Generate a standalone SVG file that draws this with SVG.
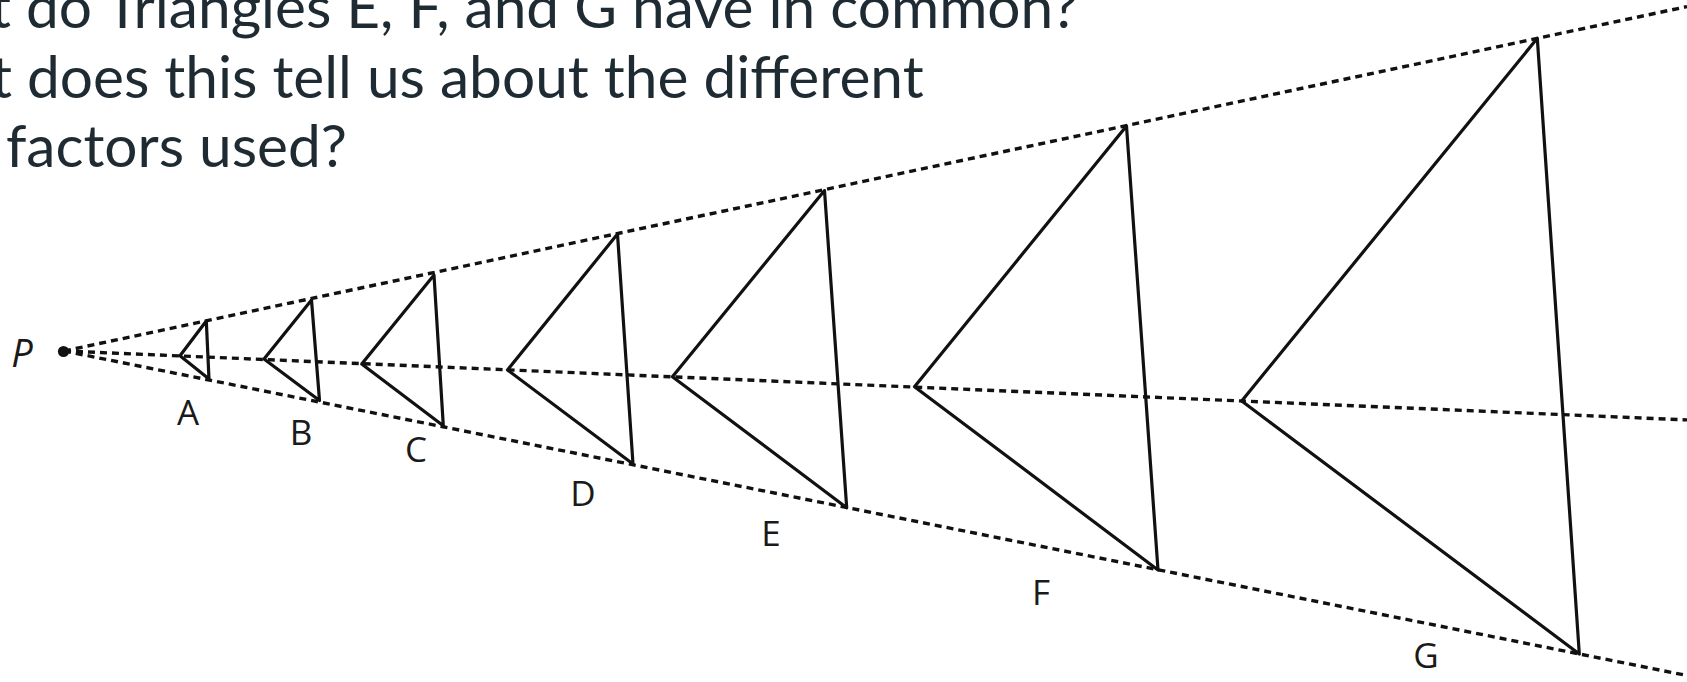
<svg xmlns="http://www.w3.org/2000/svg" width="1687" height="682" viewBox="0 0 1687 682">
<style>
.q{font-family:Lato,"Open Sans","Liberation Sans",sans-serif;font-size:58.6px;fill:#1f2b33}
.lbl{font-family:"Open Sans","Liberation Sans",sans-serif;font-size:35px;fill:#1a1a1a;text-anchor:middle}
.ray{stroke:#111;stroke-width:3.4;stroke-dasharray:7 5;fill:none}
.tri{stroke:#111;stroke-width:3.2;fill:none;stroke-linejoin:round}
</style>
<rect width="1687" height="682" fill="#fff"/>
<g id="question">
<text class="q" x="-10" y="28">t do Triangles E, F, and G have in common?</text>
<text class="q" x="-9" y="98">t does this tell us about the different</text>
<text class="q" x="6" y="167">factors used?</text>
</g>
<g id="connectors">
<line class="ray" x1="64" y1="351" x2="1687" y2="6.6"/>
<line class="ray" x1="64" y1="351" x2="1687" y2="419.9"/>
<line class="ray" x1="64" y1="351" x2="1687" y2="675.5"/>
</g>
<g id="P">
<circle cx="63.5" cy="351.5" r="5.6" fill="#111"/>
<text x="22" y="367" font-family="'Open Sans','Liberation Sans',sans-serif" font-size="38" font-style="italic" fill="#1a1a1a" text-anchor="middle">P</text>
</g>
<g id="triA"><polygon class="tri" points="206.3,321 180,355.8 209,379"/><text class="lbl" x="188" y="425">A</text></g>
<g id="triB"><polygon class="tri" points="311.5,300 264,359 319.5,400.5"/><text class="lbl" x="301" y="445">B</text></g>
<g id="triC"><polygon class="tri" points="434,275 361.7,364 443.3,425.7"/><text class="lbl" x="416" y="462">C</text></g>
<g id="triD"><polygon class="tri" points="617.5,234 507.5,370 633,464"/><text class="lbl" x="583" y="506">D</text></g>
<g id="triE"><polygon class="tri" points="824.5,190.5 672.4,376.7 846.7,507.7"/><text class="lbl" x="771" y="546">E</text></g>
<g id="triF"><polygon class="tri" points="1126.5,126 914.5,386.7 1158,570"/><text class="lbl" x="1041" y="605">F</text></g>
<g id="triG"><polygon class="tri" points="1537.3,38.3 1241.7,401 1579.3,654"/><text class="lbl" x="1426" y="668">G</text></g>
</svg>
